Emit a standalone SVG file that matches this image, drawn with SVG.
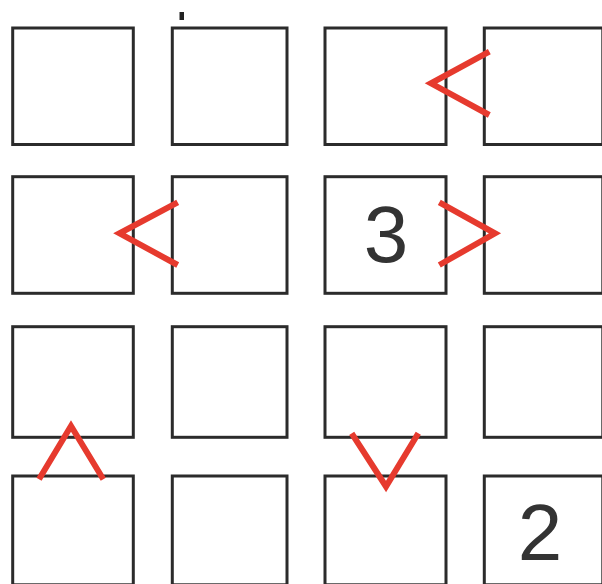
<svg xmlns="http://www.w3.org/2000/svg" width="602" height="584" viewBox="0 0 602 584">
<style>
.cell{fill:#ffffff;stroke:#2b2b2b;stroke-width:3}
.chev{fill:none;stroke:#e63a2e;stroke-width:6;stroke-linecap:butt;stroke-linejoin:miter;stroke-miterlimit:10}
.num{font-family:"Liberation Sans",Arial,sans-serif;font-size:80px;fill:#333333;text-anchor:middle}
</style>
<rect width="602" height="584" fill="#ffffff"/>
<g id="cells">
<g id="r1c1"><rect class="cell" x="12.7" y="28" width="120.6" height="116.5"/></g>
<g id="r1c2"><rect class="cell" x="172.3" y="28" width="114.7" height="116.5"/></g>
<g id="r1c3"><rect class="cell" x="325" y="28" width="121" height="116.5"/></g>
<g id="r1c4"><rect class="cell" x="484.3" y="28" width="118.5" height="116.5"/></g>
<g id="r2c1"><rect class="cell" x="12.7" y="176.7" width="120.6" height="116.6"/></g>
<g id="r2c2"><rect class="cell" x="172.3" y="176.7" width="114.7" height="116.6"/></g>
<g id="r2c3"><rect class="cell" x="325" y="176.7" width="121" height="116.6"/><text class="num" x="386" y="262">3</text></g>
<g id="r2c4"><rect class="cell" x="484.3" y="176.7" width="118.5" height="116.6"/></g>
<g id="r3c1"><rect class="cell" x="12.7" y="326.7" width="120.6" height="110.6"/></g>
<g id="r3c2"><rect class="cell" x="172.3" y="326.7" width="114.7" height="110.6"/></g>
<g id="r3c3"><rect class="cell" x="325" y="326.7" width="121" height="110.6"/></g>
<g id="r3c4"><rect class="cell" x="484.3" y="326.7" width="118.5" height="110.6"/></g>
<g id="r4c1"><rect class="cell" x="12.7" y="476" width="120.6" height="108.8"/></g>
<g id="r4c2"><rect class="cell" x="172.3" y="476" width="114.7" height="108.8"/></g>
<g id="r4c3"><rect class="cell" x="325" y="476" width="121" height="108.8"/></g>
<g id="r4c4"><rect class="cell" x="484.3" y="476" width="118.5" height="108.8"/><text class="num" x="540" y="560">2</text></g>
</g>
<rect x="179.5" y="12" width="4.5" height="8" fill="#222222"/>
<g id="connectors">
<polyline class="chev" points="489.3,51.7 431,83.3 489.3,115"/>
<polyline class="chev" points="177.7,202.3 119.5,233.3 177.7,265"/>
<polyline class="chev" points="439.3,202.3 495,233.3 439.3,265"/>
<polyline class="chev" points="39,479.3 71,426 103.3,479.3"/>
<polyline class="chev" points="351.7,433.3 386,486.5 418.3,433.3"/>
</g>
</svg>
